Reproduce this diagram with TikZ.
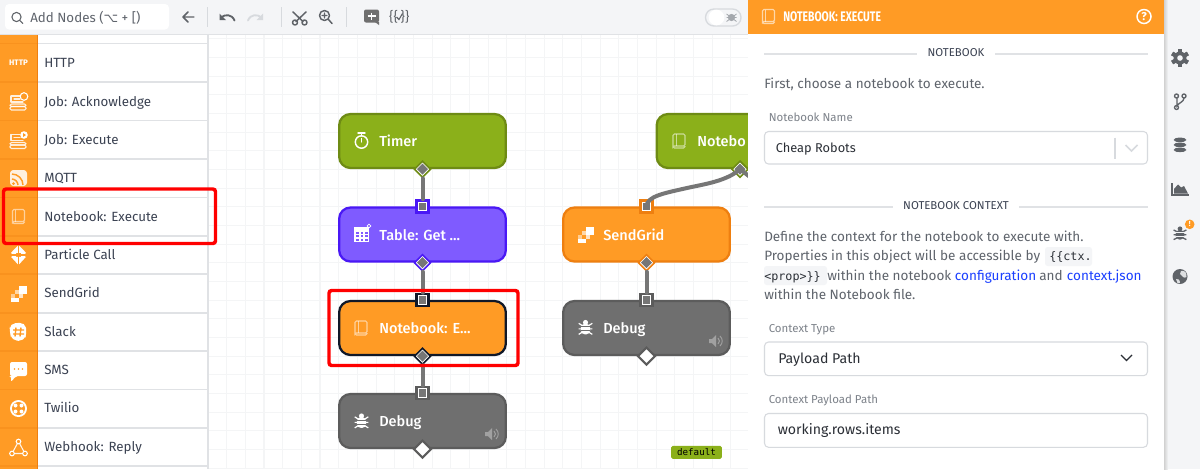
\documentclass[tikz,border=0pt]{standalone}
\usepackage{fontspec}
\setmainfont{Fira Sans}
\newfontfamily\medfont{Fira Sans Medium}
\newfontfamily\condfont[FakeStretch=0.75]{Fira Sans}
\newfontfamily\djvu{DejaVu Sans}
\newfontfamily\codefont{DejaVu Sans Mono}
\usetikzlibrary{shapes.geometric}
\definecolor{orangeF}{HTML}{FF9B25}
\definecolor{orangeB}{HTML}{EE7F10}
\definecolor{greenF}{HTML}{8BB01A}
\definecolor{greenB}{HTML}{6E8B14}
\definecolor{purpF}{HTML}{7F5BFF}
\definecolor{purpB}{HTML}{4A18F5}
\definecolor{navyB}{HTML}{101828}
\definecolor{grayF}{HTML}{6F6F6F}
\definecolor{grayB}{HTML}{5C5C5C}
\definecolor{wireC}{HTML}{767676}
\definecolor{barbg}{HTML}{F4F5F7}
\definecolor{sep}{HTML}{E0E2E5}
\definecolor{gridc}{HTML}{F4F5F6}
\definecolor{ink}{HTML}{3B4252}
\definecolor{para}{HTML}{5F646C}
\definecolor{lab}{HTML}{7D828A}
\definecolor{dark}{HTML}{2B2F36}
\definecolor{linkb}{HTML}{1A3FFF}
\definecolor{icong}{HTML}{5F6368}
\definecolor{boxb}{HTML}{D7DADE}
\tikzset{
 flow/.style={rectangle,rounded corners=8.5pt,line width=1.7pt,minimum width=125pt,minimum height=40.5pt,inner sep=0pt},
 nlabel/.style={anchor=base west,inner sep=0pt,text=white,font=\medfont\fontsize{10.9pt}{13pt}\selectfont},
 row/.style={anchor=base west,inner sep=0pt,text=ink,font=\fontsize{10pt}{12pt}\selectfont},
 inport/.style={rectangle,draw=#1,fill=white,line width=1.8pt,minimum size=9pt,inner sep=0pt,
   path picture={\fill[wireC] (path picture bounding box.center) +(-2.9pt,-2.9pt) rectangle +(2.9pt,2.9pt);}},
 outport/.style={diamond,aspect=1,draw=#1,fill=white,line width=1.2pt,minimum size=12.5pt,inner sep=0pt,
   path picture={\fill[wireC] (path picture bounding box.center) +(-4.2pt,0pt) -- +(0pt,4.2pt) -- +(4.2pt,0pt) -- +(0pt,-4.2pt) -- cycle;}},
 outfree/.style={diamond,aspect=1,draw=#1,fill=white,line width=1.6pt,minimum size=13.5pt,inner sep=0pt},
 wire/.style={draw=wireC,line width=3pt,line cap=round},
 redbox/.style={draw=red,line width=2.6pt,rounded corners=2pt},
 field/.style={draw=boxb,line width=.8pt,rounded corners=3pt,fill=white},
 ptext/.style={anchor=base west,inner sep=0pt,text=para,font=\fontsize{10.15pt}{12pt}\selectfont},
 ltext/.style={anchor=base west,inner sep=0pt,text=lab,font=\fontsize{8.6pt}{11pt}\selectfont},
 vtext/.style={anchor=base west,inner sep=0pt,text=dark,font=\fontsize{10.6pt}{12pt}\selectfont},
 htext/.style={anchor=base,inner sep=0pt,text=ink,font=\fontsize{8.55pt}{11pt}\selectfont},
 rule/.style={draw=sep,line width=1.2pt},
 tool/.style={draw=icong,line width=1.1pt,line cap=round,line join=round},
 tooloff/.style={draw=boxb,line width=1.1pt,line cap=round,line join=round},
 wl/.style={draw=white,line width=.8pt,line cap=round,line join=round},
}
% icons, drawn about their centre
\newcommand\icBook[3]{\begin{scope}[shift={(#1,#2)}]
  \draw[#3,line width=.8pt,rounded corners=1pt] (-6,5) -- (-6,-7) -- (6,-7) -- (6,5) -- (-6,5) -- (-6,7) -- (6,7) -- (6,5);
  \draw[#3,line width=.6pt] (-3,-7) -- (-3,5);
\end{scope}}
\newcommand\icBug[3]{\begin{scope}[shift={(#1,#2)},scale=#3]
  \fill[white] (0,-6.5) circle [radius=3];
  \fill[white,rounded corners=3pt] (-5.5,-5) rectangle (5.5,7.5);
  \draw[white,line width=.9pt] (-8,-5.5) -- (-4,-3) (8,-5.5) -- (4,-3) (-8,1) -- (8,1) (-8,7.5) -- (-4,5) (8,7.5) -- (4,5);
  \draw[grayF,line width=.7pt] (-5.5,-1.5) -- (5.5,-1.5) (-5.5,3) -- (5.5,3);
\end{scope}}
\newcommand\icSpeaker[2]{\begin{scope}[shift={(#1,#2)}]
  \fill[white,opacity=.35] (-7,-2) -- (-4,-2) -- (0,-6) -- (0,6) -- (-4,2) -- (-7,2) -- cycle;
  \draw[white,opacity=.35,line width=.7pt] (2,-3) .. controls (4,-1) and (4,1) .. (2,3) (4,-5) .. controls (7,-2) and (7,2) .. (4,5);
\end{scope}}
\newcommand\icStack[2]{\begin{scope}[shift={(#1,#2)}]
  \draw[wl,opacity=.85] (-7,-5) -- (-7,1) -- (5,1) (-7,-5) -- (2,-5) (-4,-2) -- (2,-2);
  \draw[wl,opacity=.85,rounded corners=1pt] (-8,3) rectangle (8,5.5);
  \draw[wl,opacity=.85,rounded corners=1pt] (-8,5.5) rectangle (8,9);
\end{scope}}
\newcommand\icSendGrid[2]{\begin{scope}[shift={(#1,#2)}]
  \fill[white] (0,-8) rectangle (8,0);
  \fill[white,opacity=.6] (-4,-4) rectangle (0,0);
  \fill[white,opacity=.75] (0,0) rectangle (4,4);
  \fill[white,opacity=.5] (-8,0) rectangle (-4,4);
  \fill[white] (-8,4) rectangle (0,8);
\end{scope}}
\begin{document}
\begin{tikzpicture}[x=.75pt,y=-.75pt]
\useasboundingbox (0,0) rectangle (1200,469);
\clip (0,0) rectangle (1200,469);
\fill[white] (0,0) rectangle (1200,469);
% canvas grid
\foreach \i in {0,...,29}{\draw[gridc,line width=.8pt] ({208.0+18.67*\i},35) -- ({208.0+18.67*\i},469);}
\foreach \i in {0,...,23}{\draw[gridc,line width=.8pt] (208,{38.7+18.67*\i}) -- (748,{38.7+18.67*\i});}
% flow nodes
\node[flow,fill=greenF,draw=greenB] (timer) at (422.5,141) {};
\node[flow,fill=purpF,draw=purpB] (table) at (422.5,234.5) {};
\node[flow,fill=orangeF,draw=navyB] (nbexec) at (422.5,328) {};
\node[flow,fill=grayF,draw=grayB] (debuga) at (422.5,421) {};
\node[flow,fill=orangeF,draw=orangeB] (sendgrid) at (646.5,234.5) {};
\node[flow,fill=grayF,draw=grayB] (debugb) at (646.5,328) {};
\node[flow,fill=greenF,draw=greenB] (nbtop) at (740,141) {};
% ports
\node[outport=greenB] (timerout) at (timer.south) {};
\node[inport=purpB] (tablein) at (table.north) {};
\node[outport=purpB] (tableout) at (table.south) {};
\node[inport=navyB] (nbin) at (nbexec.north) {};
\node[outport=navyB] (nbout) at (nbexec.south) {};
\node[inport=grayB] (dain) at (debuga.north) {};
\node[outfree=grayB] (daout) at (debuga.south) {};
\node[inport=orangeB] (sgin) at (sendgrid.north) {};
\node[outport=orangeB] (sgout) at (sendgrid.south) {};
\node[inport=grayB] (dbin) at (debugb.north) {};
\node[outfree=grayB] (dbout) at (debugb.south) {};
\node[outport=greenB] (topout) at (nbtop.south) {};
\coordinate (offright) at (750,177);
% connectors
\draw[wire] (timerout.south) -- (tablein.north);
\draw[wire] (tableout.south) -- (nbin.north);
\draw[wire] (nbout.south) -- (dain.north);
\draw[wire] (sgout.south) -- (dbin.north);
\draw[wire] (sgin.center) .. controls (647,196) and (665,193) .. (687,188) .. controls (705,184) and (727,181) .. (topout.center);
\draw[wire] (topout.center) -- (offright);
% node labels and icons
\node[nlabel] (ltimer) at (379,146.5) {Timer};
\node[nlabel] (ltable) at (379,240) {Table: Get ...};
\node[nlabel] (lnb) at (379,333.5) {Notebook: E...};
\node[nlabel] (lda) at (379,426.5) {Debug};
\node[nlabel] (lsg) at (603,240) {SendGrid};
\node[nlabel] (ldb) at (603,333.5) {Debug};
\node[nlabel] (ltop) at (697,146.5) {Notebo};
% timer icon
\draw[white,line width=1.1pt] (361.5,142) circle [radius=6.2];
\draw[white,line width=1.1pt,line cap=round] (358,133) -- (365,133) (361.5,133) -- (361.5,136) (361.5,142) -- (361.5,138.5);
% table icon
\fill[white] (353.5,227) rectangle (369,241.5);
\foreach \a in {358,362.5,367}{\foreach \b in {231.5,235,238.5}{\fill[purpF] ({\a-1.6},\b) rectangle ({\a+.8},{\b+2});}}
\draw[white,line width=.5pt] (369,226) circle [radius=1.8];
\icBook{361}{328}{white,opacity=.55}
\icBook{679}{141}{white,opacity=.55}
\icBug{361.5}{421.5}{.85}
\icBug{585.5}{328}{.85}
\icSendGrid{585.5}{234.5}
\icSpeaker{492}{434}
\icSpeaker{716}{341}
% default badge
\node[rectangle,fill=greenF,rounded corners=1.2pt,minimum width=38pt,minimum height=9.8pt,inner sep=0pt,text=black,font=\codefont\fontsize{6.9pt}{8pt}\selectfont] (badge) at (696.5,452.3) {default};
% sidebar
\fill[white] (0,35) rectangle (207,469);
\fill[sep] (207,35) rectangle (208.5,469);
\fill[orangeF] (0,35) rectangle (37,469);
\foreach \s in {43.5,82,120.5,159,197.5,236,274,313,351,389.5,428,466}{\fill[sep] (37,\s-.7) rectangle (207,\s+.7);\fill[orangeB,opacity=.3] (0,\s-.7) rectangle (37,\s+.7);}
\fill[orangeB] (37,35) rectangle (37.8,469);
\node[row] (r1) at (44,67.5) {HTTP};
\node[row] (r2) at (44,106) {Job: Acknowledge};
\node[row] (r3) at (44,144.4) {Job: Execute};
\node[row] (r4) at (44,182.7) {MQTT};
\node[row] (r5) at (44,221.3) {Notebook: Execute};
\node[row] (r6) at (44,259.4) {Particle Call};
\node[row] (r7) at (44,297.7) {SendGrid};
\node[row] (r8) at (44,336) {Slack};
\node[row] (r9) at (44,374.3) {SMS};
\node[row] (r10) at (44,412.7) {Twilio};
\node[row] (r11) at (44,451) {Webhook: Reply};
% sidebar icons
\node[text=white,inner sep=0pt,font=\bfseries\fontsize{6pt}{7pt}\selectfont] (ihttp) at (18.5,63) {HTTP};
\icStack{18}{101}
\draw[wl,fill=orangeF] (24,96.5) circle [radius=3.8];
\icStack{18}{139.5}
\fill[white] (24,135) circle [radius=3.8];
\fill[orangeF] (23,133) -- (26,135) -- (23,137) -- cycle;
% mqtt
\fill[white,opacity=.85,rounded corners=2.5pt] (10,170) rectangle (27,186);
\draw[orangeF,line width=1.1pt] (12,174) .. controls (18,174) and (23,179) .. (23,185) (12,179) .. controls (15,179) and (18,182) .. (18,185);
\fill[orangeF] (13.5,183.5) circle [radius=1.5];
% book
\icBook{18.5}{216.5}{white,opacity=.55}
% particle
\fill[white] (18.5,245) -- (26,252.8) -- (11,252.8) -- cycle (18.5,265) -- (26,256.8) -- (11,256.8) -- cycle;
\fill[white] (10,254.8) -- (16,250) -- (16,260) -- cycle;
\fill[white] (27,254.8) -- (21,250) -- (21,260) -- cycle;
\fill[orangeF] (17.6,245) rectangle (19.4,265);
\fill[orangeF] (10,254) rectangle (27,255.6);
\icSendGrid{18.5}{293.8}
% slack
\fill[white,rounded corners=4pt] (10,323.5) -- (25,322.5) -- (27,333) -- (24,341) -- (12,340.5) -- (9.5,332) -- cycle;
\draw[orangeF,line width=1pt] (16,327.5) -- (15,336.5) (21,327.5) -- (20,336.5) (13,330) -- (24,330) (13,334) -- (24,334);
% sms
\fill[white,rounded corners=1.5pt] (10,362) -- (27,362) -- (27,376) -- (16,376) -- (11,382) -- (11,376) -- (10,376) -- cycle;
\foreach \a in {14.5,18.5,22.5}{\fill[orangeF] (\a,369) circle [radius=.9];}
% twilio
\fill[white] (18.5,408.5) circle [radius=8.5];
\fill[orangeF] (18.5,408.5) circle [radius=6.5];
\foreach \a in {15.5,21.5}{\foreach \b in {405.5,411.5}{\fill[white] (\a,\b) circle [radius=2];}}
% webhook
\draw[wl,opacity=.9] (18.5,441.5) -- (12,453.5) -- (25,453.5) -- cycle;
\foreach \a/\b in {18.5/441.5,12/453.5,25/453.5}{\draw[wl,fill=orangeF] (\a,\b) circle [radius=2.3];}
% red boxes
\draw[redbox] (3.5,189) rectangle (215.5,243.5);
\draw[redbox] (329,290.5) rectangle (518,365.5);
% toolbar
\fill[barbg] (0,0) rectangle (748,34);
\fill[sep] (0,33.7) rectangle (748,35);
\fill[white,rounded corners=3pt] (5,4) rectangle (169,29.5);
\draw[draw=icong,line width=.8pt] (16.5,17) circle [radius=4.6];
\draw[draw=icong,line width=.8pt] (20,20.5) -- (23,23.5);
\node[anchor=base west,inner sep=0pt,text=para,font=\fontsize{10pt}{12pt}\selectfont] (search) at (30,22.2) {Add Nodes ({\djvu\fontsize{9.5pt}{12pt}\selectfont ⌥} + [)};
% back arrow
\draw[tool] (194,17) -- (183,17) (188,12) -- (183,17) -- (188,22);
\fill[boxb] (206.5,7) rectangle (207.8,27);
\fill[boxb] (280.5,7) rectangle (281.8,27);
\fill[boxb] (345.5,7) rectangle (346.8,27);
% undo, redo
\draw[tool,line width=1.4pt] (234.5,20.5) .. controls (232,14) and (225,14) .. (221,17.5);
\fill[icong] (219.5,13.5) -- (219.5,20) -- (226,20) -- cycle;
\draw[tooloff,line width=1.4pt] (248,20.5) .. controls (250.5,14) and (257.5,14) .. (261.5,17.5);
\fill[boxb] (263,13.5) -- (263,20) -- (256.5,20) -- cycle;
% scissors
\draw[tool] (296,21.5) -- (306,12) (303,21.5) -- (293,12);
\draw[tool] (295,22.5) circle [radius=2.5] (304.5,22.5) circle [radius=2.5];
% zoom
\draw[tool] (324.5,15.5) circle [radius=5];
\draw[tool] (328.5,19.5) -- (332,23.5) (322,15.5) -- (327,15.5) (324.5,13) -- (324.5,18);
% comment
\fill[grayF,rounded corners=1.5pt] (364,9.5) rectangle (379,22.5);
\fill[grayF] (375,22) -- (379,22) -- (379,25) -- cycle;
\draw[white,line width=1.2pt] (367.5,16) -- (375.5,16) (371.5,12.5) -- (371.5,20);
% braces
\node[inner sep=0pt,text=icong,font=\fontsize{10pt}{12pt}\selectfont] (tmpl) at (393.5,16.5) {\{\{};
\node[inner sep=0pt,text=icong,font=\fontsize{10pt}{12pt}\selectfont] (tmpr) at (405,16.5) {\}\}};
\draw[draw=icong,line width=.8pt] (396.5,17) -- (399,19.5) -- (402.5,13.5);
% toggle
\draw[draw=boxb,fill=barbg,line width=1pt,rounded corners=6.3pt] (705.5,9) rectangle (741,26);
\fill[white] (716.5,17.5) circle [radius=7.8];
\fill[lab!70] (731.5,17.5) circle [radius=3.6];
\draw[lab!70,line width=.6pt] (726.5,14) -- (736.5,21.5) (736.5,14) -- (726.5,21.5) (726.5,17.5) -- (736.5,17.5);
% right panel
\fill[white] (748,0) rectangle (1164,469);
\fill[orangeF] (748,0) rectangle (1164,34.3);
\icBook{768.5}{16.5}{white,opacity=.6}
\node[anchor=base west,inner sep=0pt,text=white,font=\condfont\bfseries\fontsize{10.4pt}{12pt}\selectfont] (title) at (783,21) {NOTEBOOK: EXECUTE};
\draw[white,line width=1.1pt] (1144,16.5) circle [radius=7];
\node[inner sep=0pt,text=white,font=\bfseries\fontsize{8.5pt}{10pt}\selectfont] (help) at (1144,16.5) {?};
% section 1
\draw[rule] (764,53.7) -- (917,53.7);
\draw[rule] (995,53.7) -- (1148,53.7);
\node[htext] (s1) at (956,56.5) {NOTEBOOK};
\node[ptext] (p0) at (764,88.5) {First, choose a notebook to execute.};
\node[ltext] (l1) at (768.5,121.3) {Notebook Name};
\draw[field] (764.5,131.5) rectangle (1147.5,164);
\node[vtext,font=\fontsize{9.6pt}{12pt}\selectfont] (v1) at (775.5,152.5) {Cheap Robots};
\draw[boxb,line width=.8pt] (1115,137.5) -- (1115,158.5);
\draw[boxb,line width=1.2pt] (1125.5,145) -- (1131.5,151) -- (1137.5,145);
% section 2
\draw[rule] (764,207) -- (893,207);
\draw[rule] (1019,207) -- (1148,207);
\node[htext] (s2) at (956,209) {NOTEBOOK CONTEXT};
\node[ptext] (p1) at (764,241.5) {Define the context for the notebook to execute with.};
\fill[barbg,rounded corners=2pt] (1045,247) rectangle (1092,266);
\fill[barbg,rounded corners=2pt] (764,266) rectangle (827,285);
\node[ptext] (p2) at (764,260.7) {Properties in this object will be accessible by};
\node[ptext,text=dark,font=\codefont\fontsize{8.8pt}{10pt}\selectfont] (c1) at (1049,260.7) {\{\{ctx.};
\node[ptext,text=dark,font=\codefont\fontsize{8.8pt}{10pt}\selectfont] (c2) at (764,280) {<prop>\}\}};
\node[ptext] (p3a) at (827,280) {within the notebook};
\node[ptext,text=linkb] (p3b) at (954.7,280) {configuration};
\node[ptext] (p3c) at (1039,280) {and};
\node[ptext,text=linkb] (p3d) at (1066.7,280) {context.json};
\node[ptext] (p4) at (764,299) {within the Notebook file.};
\node[ltext] (l2) at (768.5,332) {Context Type};
\draw[field] (764.5,342) rectangle (1147.5,375.7);
\node[vtext] (v2) at (778,363) {Payload Path};
\draw[draw=dark,line width=1pt] (1121,355) -- (1126.5,360.5) -- (1132,355);
\node[ltext] (l3) at (768.5,403) {Context Payload Path};
\draw[field] (764.5,413.5) rectangle (1147.5,447.3);
\node[vtext] (v3) at (777.5,434.5) {working.rows.items};
% right rail
\fill[barbg] (1164,0) rectangle (1200,469);
\shade[left color=black!18,right color=barbg] (1164,0) rectangle (1168,469);
% gear
\foreach \t in {0,60,...,300}{\fill[icong,rotate around={\t:(1180,58)}] (1178,49) rectangle (1182,67);}
\fill[icong] (1180,58) circle [radius=6.5];
\fill[barbg] (1180,58) circle [radius=2.8];
% branch
\draw[icong,line width=1pt] (1177,98) -- (1177,106) .. controls (1178,103) and (1184,102) .. (1184,98);
\draw[icong,line width=1pt] (1176.5,96) circle [radius=2] (1184,96) circle [radius=2] (1176.5,107.5) circle [radius=2];
% database
\foreach \b in {140,145,150}{\fill[icong] (1180,\b) ellipse [x radius=6.5,y radius=2.4];\draw[barbg,line width=.5pt] (1173.5,\b+.6) .. controls (1175,\b+3.5) and (1185,\b+3.5) .. (1186.5,\b+.6);}
% chart
\draw[icong,line width=1pt] (1172,183) -- (1172,195) -- (1189,195);
\fill[icong] (1174,193.5) -- (1174,189) -- (1178,184.5) -- (1181,187.5) -- (1184,186) -- (1188,193.5) -- cycle;
% bug
\begin{scope}[shift={(1180,234)},scale=.8]
\fill[icong] (0,-6.5) circle [radius=3];
\fill[icong,rounded corners=3pt] (-5.5,-5) rectangle (5.5,7);
\draw[icong,line width=1pt] (-8,-5) -- (-4,-3) (8,-5) -- (4,-3) (-8,1) -- (8,1) (-8,7) -- (-4,5) (8,7) -- (4,5);
\draw[barbg,line width=.7pt] (-5.5,-1.5) -- (5.5,-1.5) (-5.5,3) -- (5.5,3);
\end{scope}
\fill[orangeF] (1189.7,224.3) circle [radius=4.8];
\node[inner sep=0pt,text=white,font=\bfseries\fontsize{5.5pt}{6pt}\selectfont] (badgeb) at (1189.7,224.3) {!};
% globe
\fill[icong] (1180,276.5) circle [radius=7.5];
\fill[barbg,opacity=.85] (1181,271) .. controls (1185,270) and (1187,273) .. (1186.5,277) .. controls (1184,279) and (1182,276) .. (1180,274) -- cycle;
\fill[barbg,opacity=.85] (1176,279) .. controls (1178,278) and (1180,280) .. (1180,283) -- (1177.5,283) -- cycle;
\end{tikzpicture}
\end{document}
